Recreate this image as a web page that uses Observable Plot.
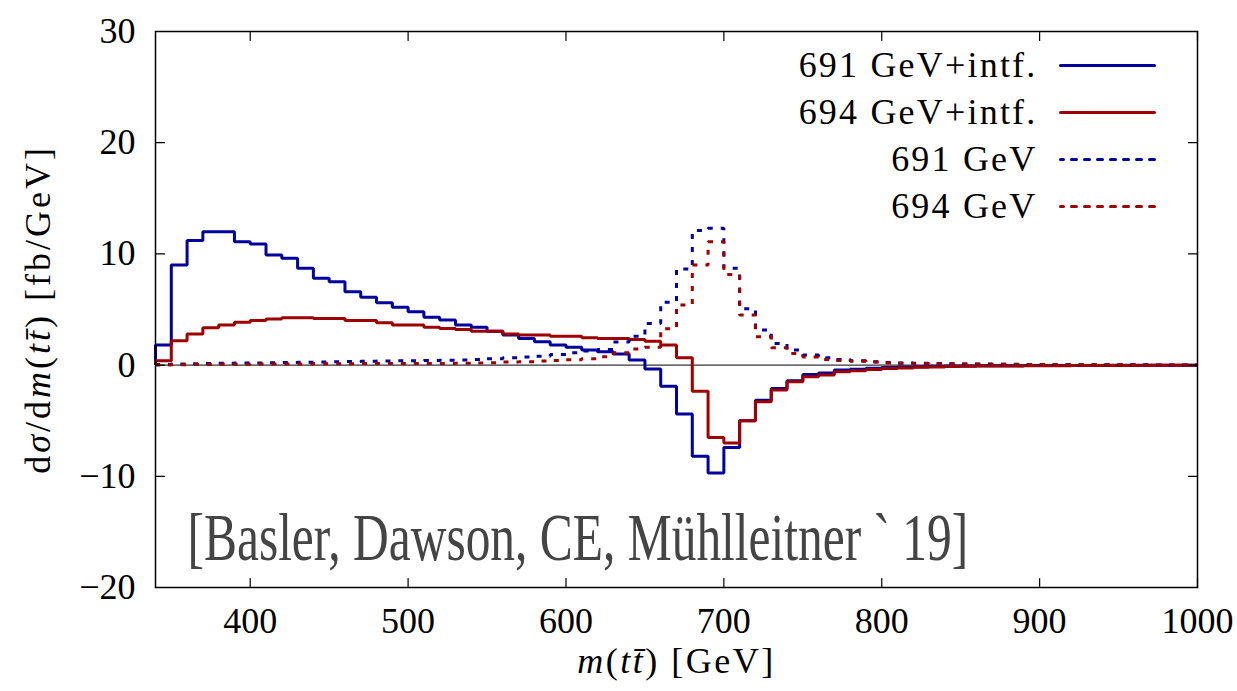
<!DOCTYPE html>
<html><head><meta charset="utf-8">
<script src="https://cdn.jsdelivr.net/npm/d3@7"></script>
<script src="https://cdn.jsdelivr.net/npm/@observablehq/plot@0.6"></script>
<style>
html,body{margin:0;padding:0;background:#fff;}
#chart{width:1237px;height:691px;}
#chart svg, #chart svg text, #chart svg tspan { font-family: "Liberation Serif", "DejaVu Serif", serif !important; }
</style></head><body><div id="chart"></div>
<script>
// Bin edges of m(tt) in GeV (10 GeV bins)
const binEdges = [340,350,360,370,380,390,400,410,420,430,440,450,460,470,480,490,500,510,520,530,
  540,550,560,570,580,590,600,610,620,630,640,650,660,670,680,690,700,710,720,730,
  740,750,760,770,780,790,800,810,820,830,840,850,860,870,880,890,900,910,920,930,
  940,950,960,970,980,990,1000];
const xTicks = [400,500,600,700,800,900,1000];
const yTicks = [-20,-10,0,10,20,30];
const seriesNames = ["691 GeV+intf.", "694 GeV+intf.", "691 GeV", "694 GeV"];

// dσ/dm in fb/GeV, one value per bin
const h691intf = [1.8, 9.0, 11.2, 12.0, 12.0, 11.1, 10.9, 9.9, 9.6, 8.7,
  7.8, 7.5, 6.6, 6.1, 5.6, 5.2, 4.8, 4.3, 4.05, 3.6,
  3.4, 3.05, 2.7, 2.4, 2.1, 1.8, 1.6, 1.35, 1.2, 1.0,
  0.45, -0.35, -1.9, -4.4, -8.2, -9.7, -7.4, -5.0, -3.15, -2.1,
  -1.4, -0.85, -0.7, -0.45, -0.37, -0.28, -0.22, -0.18, -0.14, -0.11,
  -0.09, -0.07, -0.06, -0.05, -0.05, -0.04, -0.04, -0.03, -0.03, -0.03,
  -0.02, -0.02, -0.02, -0.02, -0.01, -0.01];
const h694intf = [0.4, 2.2, 2.8, 3.35, 3.6, 3.85, 4.0, 4.15, 4.25, 4.25,
  4.2, 4.2, 4.0, 4.0, 3.8, 3.6, 3.6, 3.4, 3.3, 3.2,
  3.05, 3.05, 2.8, 2.7, 2.7, 2.6, 2.6, 2.45, 2.4, 2.4,
  2.3, 2.15, 1.8, 0.66, -2.35, -6.5, -7.0, -5.0, -3.3, -2.25,
  -1.5, -1.05, -0.9, -0.6, -0.5, -0.4, -0.3, -0.25, -0.2, -0.16,
  -0.13, -0.1, -0.09, -0.08, -0.07, -0.06, -0.05, -0.05, -0.04, -0.04,
  -0.03, -0.03, -0.03, -0.02, -0.02, -0.02];
const h691 = [0.05, 0.1, 0.12, 0.14, 0.16, 0.18, 0.2, 0.22, 0.24, 0.26,
  0.28, 0.3, 0.32, 0.34, 0.36, 0.38, 0.4, 0.42, 0.44, 0.46,
  0.5, 0.58, 0.66, 0.72, 0.8, 0.95, 1.1, 1.26, 1.4, 2.07,
  2.6, 3.75, 5.65, 8.65, 12.1, 12.3, 8.7, 5.06, 3.15, 1.95,
  1.35, 0.9, 0.66, 0.5, 0.38, 0.3, 0.24, 0.2, 0.17, 0.14,
  0.12, 0.1, 0.09, 0.08, 0.07, 0.06, 0.05, 0.05, 0.04, 0.04,
  0.03, 0.03, 0.03, 0.02, 0.02, 0.02];
const h694 = [0.02, 0.04, 0.05, 0.06, 0.07, 0.08, 0.09, 0.1, 0.1, 0.11,
  0.12, 0.12, 0.13, 0.14, 0.14, 0.15, 0.15, 0.15, 0.15, 0.16,
  0.2, 0.22, 0.27, 0.3, 0.36, 0.42, 0.47, 0.57, 0.75, 1.1,
  1.45, 1.6, 3.27, 5.4, 9.0, 11.1, 8.15, 4.5, 2.55, 1.55,
  1.05, 0.72, 0.5, 0.42, 0.34, 0.27, 0.2, 0.17, 0.14, 0.12,
  0.1, 0.09, 0.08, 0.07, 0.06, 0.05, 0.05, 0.04, 0.04, 0.03,
  0.03, 0.03, 0.02, 0.02, 0.02, 0.02];

const yLabel = "dσ/dm(tt̄) [fb/GeV]";
const xLabel = "m(tt̄) [GeV]";
const annotation = "[Basler, Dawson, CE, Mühlleitner ` 19]";

// styles
const BLUE = "#00009c", RED = "#9c0000";
const seriesColors = [BLUE, RED, BLUE, RED];
const seriesDash = [null, null, "5,8", "5,8"];
const series = [h691intf, h694intf, h691, h694];
const FONT = "Liberation Serif";

const bins = binEdges.slice(0, -1);
function steps(vals) {
  return [{x: binEdges[0], y: 0},
    ...bins.map((b, i) => ({x: b, y: vals[i]})),
    {x: binEdges[binEdges.length - 1], y: vals[vals.length - 1]}];
}
const fmt = d => (d < 0 ? "\u2212" + Math.abs(d) : String(d));
const tickLine = {draw(ctx, l) { ctx.moveTo(0, 0); ctx.lineTo(0, -l); }};
const tickOpts = {length: 9, anchor: "start", shape: tickLine, stroke: "black", strokeWidth: 1.2};

const marks = [
  Plot.ruleY([0], {stroke: "black", strokeWidth: 1}),
  ...series.map((vals, i) => Plot.line(steps(vals), {
    x: "x", y: "y", curve: "step-after", stroke: seriesColors[i], strokeWidth: 3,
    strokeDasharray: seriesDash[i], strokeLinejoin: "miter", strokeLinecap: "butt"
  })),
  Plot.frame({stroke: "black", strokeWidth: 1.5}),
  Plot.vectorX(xTicks, {...tickOpts, frameAnchor: "bottom", rotate: 0}),
  Plot.vectorX(xTicks, {...tickOpts, frameAnchor: "top", rotate: 180}),
  Plot.vectorY(yTicks, {...tickOpts, frameAnchor: "left", rotate: 90}),
  Plot.vectorY(yTicks, {...tickOpts, frameAnchor: "right", rotate: -90}),
  Plot.axisX({ticks: xTicks, tickFormat: fmt, anchor: "bottom", tickSize: 0, tickPadding: 20,
    fontSize: 36, fontFamily: FONT, label: null}),
  Plot.axisY({ticks: yTicks, tickFormat: fmt, anchor: "left", tickSize: 0, tickPadding: 20,
    fontSize: 36, fontFamily: FONT, label: null}),
  Plot.text([xLabel], {text: d => d, frameAnchor: "bottom", dy: 74, fontSize: 36, fontFamily: FONT,
    textAnchor: "middle", lineAnchor: "middle"}),
  Plot.text([yLabel], {text: d => d, frameAnchor: "left", dx: -117, rotate: -90, fontSize: 36,
    fontFamily: FONT, textAnchor: "middle", lineAnchor: "middle"}),
  Plot.text([annotation], {text: d => d, frameAnchor: "bottom-left", dx: 32, dy: -49,
    fontSize: 68, fontFamily: FONT, fill: "#444", textAnchor: "start", lineAnchor: "middle"}),
  ...seriesNames.map((name, i) => Plot.text([name], {text: d => d, frameAnchor: "top-right",
    dx: -160, dy: 34 + 47 * i, fontSize: 36, fontFamily: FONT, textAnchor: "end", lineAnchor: "middle"})),
  ...seriesNames.map((name, i) => Plot.vector([name], {frameAnchor: "top-right",
    dx: -43, dy: 34 + 47 * i, rotate: -90, length: 94, anchor: "start", shape: tickLine,
    stroke: seriesColors[i], strokeWidth: 3, strokeDasharray: seriesDash[i]}))
];

const chart = Plot.plot({
  width: 1237, height: 691,
  marginLeft: 155, marginRight: 40, marginTop: 31, marginBottom: 104,
  x: {domain: [340, 1000]},
  y: {domain: [-20, 30]},
  style: {fontFamily: FONT, background: "white", color: "black"},
  marks
});
document.getElementById("chart").appendChild(chart);

function findText(str) {
  return Array.from(chart.querySelectorAll("text")).find(t => t.textContent === str);
}
function rich(str, parts) {
  const t = findText(str);
  if (!t) return null;
  t.textContent = "";
  for (const [s, it] of parts) {
    const ts = document.createElementNS("http://www.w3.org/2000/svg", "tspan");
    if (it) ts.setAttribute("font-style", "italic");
    ts.textContent = s;
    t.appendChild(ts);
  }
  return t;
}
const yl = rich(yLabel, [["d", 0], ["σ", 1], ["/d", 0], ["m", 1], ["(", 0], ["tt̄", 1], [") [fb/GeV]", 0]]);
const xl = rich(xLabel, [["m", 1], ["(", 0], ["tt̄", 1], [") [GeV]", 0]]);
if (yl) yl.style.letterSpacing = "3px";
if (xl) xl.style.letterSpacing = "2.5px";
for (const name of seriesNames) {
  const t = findText(name);
  if (t) t.style.letterSpacing = "2.2px";
}
// condensed annotation: horizontal scale around its left anchor
const an = findText(annotation);
if (an) {
  const w = an.getComputedTextLength();
  const sx = 781 / w;
  const tr = an.getAttribute("transform") || "";
  an.setAttribute("transform", tr + ` scale(${sx.toFixed(4)},1)`);
}
</script></body></html>
